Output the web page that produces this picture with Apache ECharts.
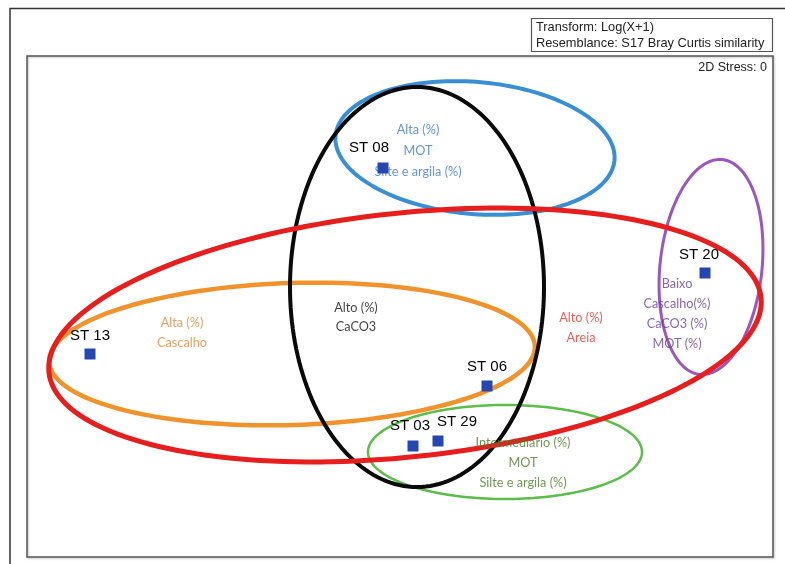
<!DOCTYPE html>
<html>
<head>
<meta charset="utf-8">
<title>nMDS – estações</title>
<script src="https://cdn.jsdelivr.net/npm/echarts@6/dist/echarts.min.js"></script>
<style>
  html, body { margin: 0; padding: 0; background: #fff; }
  #chart { width: 785px; height: 564px; }
</style>
</head>
<body>
<div id="chart"></div>
<script>
// nMDS ordination coordinates of the stations (plot units)
const stationNames = ['ST 08', 'ST 13', 'ST 06', 'ST 03', 'ST 29', 'ST 20'];
const stationX = [356, 63, 460, 386, 411, 678];
const stationY = [389, 203, 171, 111, 116, 284];

// Grouping ellipses: centre, semi-axes and rotation (degrees)
const groupKeys = ['verde', 'azul', 'roxo', 'laranja', 'preto', 'vermelho'];
const ellipseCx = [478, 448, 684, 265, 390, 378];
const ellipseCy = [105, 409, 290, 203, 270, 222];
const ellipseRx = [137, 140, 51, 243, 127, 358];
const ellipseRy = [47, 66, 108, 71, 200, 122];
const ellipseAngle = [0, -5, -6, 1.8, 0, 6];

// Descriptive text of each group, placed inside its ellipse
const groupText = [
  'Intermediário (%)\nMOT\nSilte e argila (%)',
  'Alta (%)\nMOT\nSilte e argila (%)',
  'Baixo\nCascalho(%)\nCaCO3 (%)\nMOT (%)',
  'Alta (%)\nCascalho',
  'Alto (%)\nCaCO3',
  'Alto (%)\nAreia'
];
const groupTextX = [496, 391, 650, 155, 329, 554];
const groupTextY = [94, 406, 243.5, 224, 239.5, 229];

const stressLabel = '2D Stress: 0';
const infoLines = ['Transform: Log(X+1)', 'Resemblance: S17 Bray Curtis similarity'];

// ---- styling ----
const ellipseStyle = {
  verde:    { color: '#5cbd4b', width: 2.5 },
  azul:     { color: '#3a8fd4', width: 4 },
  roxo:     { color: '#9b57bf', width: 3 },
  laranja:  { color: '#f0932c', width: 4.5 },
  preto:    { color: '#0a0a0a', width: 4 },
  vermelho: { color: '#e61e1e', width: 5 }
};
const textStyle = {
  verde:    { color: '#4d7a2a', lineHeight: 20 },
  azul:     { color: '#3d7cc9', lineHeight: 21 },
  roxo:     { color: '#693f99', lineHeight: 20 },
  laranja:  { color: '#e38a3c', lineHeight: 20 },
  preto:    { color: '#111111', lineHeight: 19 },
  vermelho: { color: '#e63a2e', lineHeight: 20 }
};
const stationLabelNudge = {
  'ST 08': [-14, -20], 'ST 13': [0, -18], 'ST 06': [0, -19],
  'ST 03': [-3, -20], 'ST 29': [19, -19], 'ST 20': [-6, -18]
};

const ellipseData = groupKeys.map((k, i) => ({
  name: k,
  value: [ellipseCx[i], ellipseCy[i], ellipseRx[i], ellipseRy[i], ellipseAngle[i]]
}));

function renderEllipse(params, api) {
  const cx = api.value(0), cy = api.value(1);
  const rx = api.value(2), ry = api.value(3);
  const a = api.value(4) * Math.PI / 180;
  const ca = Math.cos(a), sa = Math.sin(a);
  const pts = [];
  const n = 180;
  for (let i = 0; i < n; i++) {
    const t = 2 * Math.PI * i / n;
    const x = rx * Math.cos(t), y = ry * Math.sin(t);
    pts.push(api.coord([cx + x * ca - y * sa, cy + x * sa + y * ca]));
  }
  const st = ellipseStyle[groupKeys[params.dataIndex]];
  return {
    type: 'polygon',
    shape: { points: pts },
    style: { fill: 'none', stroke: st.color, lineWidth: st.width }
  };
}

const textData = groupKeys.map((k, i) => ({
  name: k,
  value: [groupTextX[i], groupTextY[i]],
  label: {
    formatter: groupText[i],
    color: textStyle[k].color,
    lineHeight: textStyle[k].lineHeight
  }
}));

const stationData = stationNames.map((n, i) => ({
  name: n,
  value: [stationX[i], stationY[i]],
  label: { offset: stationLabelNudge[n] }
}));

const chart = echarts.init(document.getElementById('chart'), null, { renderer: 'canvas' });
chart.setOption({
  animation: false,
  backgroundColor: '#ffffff',
  grid: {
    left: 27, top: 56, width: 746, height: 501,
    show: true, borderColor: '#555555', borderWidth: 1.5,
    shadowColor: 'rgba(0,0,0,0.25)', shadowBlur: 2, shadowOffsetX: 1, shadowOffsetY: 1
  },
  xAxis: { type: 'value', min: 0, max: 746, show: false },
  yAxis: { type: 'value', min: 0, max: 501, show: false },
  series: [
    {
      type: 'custom',
      renderItem: renderEllipse,
      data: ellipseData,
      silent: true,
      z: 2
    },
    {
      type: 'scatter',
      data: textData,
      symbolSize: 0,
      silent: true,
      z: 3,
      label: {
        show: true,
        position: 'inside',
        fontFamily: 'Lato, "Open Sans", sans-serif',
        fontSize: 12.7,
        align: 'center',
        verticalAlign: 'middle'
      }
    },
    {
      type: 'scatter',
      data: stationData,
      symbol: 'rect',
      symbolSize: 11,
      itemStyle: { color: '#2646b2', opacity: 1 },
      z: 4,
      label: {
        show: true,
        position: 'inside',
        formatter: '{b}',
        color: '#000000',
        fontFamily: '"Liberation Sans", Arial, sans-serif',
        fontSize: 15
      }
    }
  ],
  graphic: [
    {
      type: 'polyline',
      shape: { points: [[10, 564], [10, 8.5], [785, 8.5]] },
      style: { fill: 'none', stroke: '#333333', lineWidth: 1.5 }
    },
    {
      type: 'rect',
      shape: { x: 531.5, y: 18.5, width: 241, height: 33 },
      style: { fill: '#ffffff', stroke: '#555555', lineWidth: 1.2 }
    },
    {
      type: 'text',
      left: 536, top: 19,
      style: {
        text: infoLines.join('\n'),
        font: '12.8px "Liberation Sans", Arial, sans-serif',
        lineHeight: 16,
        fill: '#222222'
      }
    },
    {
      type: 'text',
      right: 18, top: 61,
      style: {
        text: stressLabel,
        font: '12.5px "Liberation Sans", Arial, sans-serif',
        fill: '#222222'
      }
    }
  ]
});
</script>
</body>
</html>
